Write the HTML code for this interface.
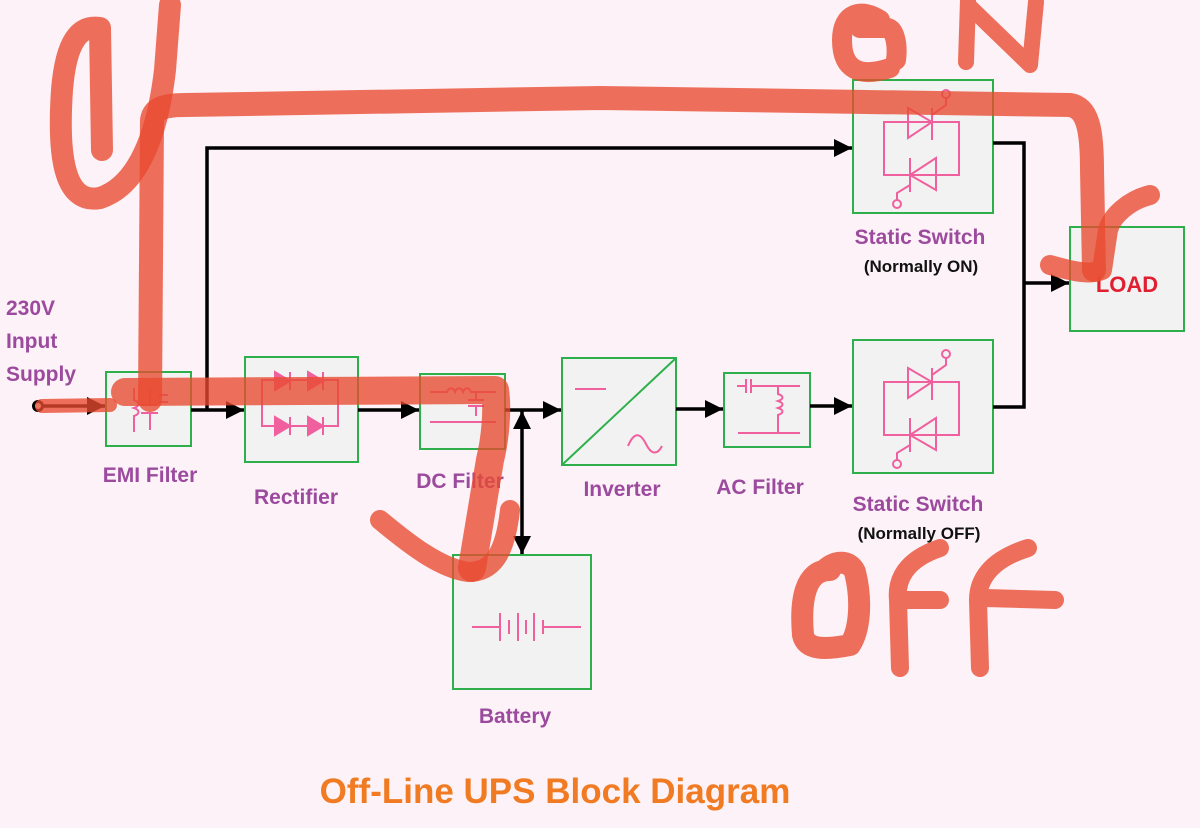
<!DOCTYPE html>
<html><head><meta charset="utf-8"><style>
html,body{margin:0;padding:0;background:#fdf2f7;}
svg{display:block}
.lbl{font-family:"Liberation Sans Narrow","Liberation Sans",sans-serif;font-weight:bold;fill:#9b4a9e;font-size:21px;text-anchor:middle}
.sub{font-family:"Liberation Sans Narrow","Liberation Sans",sans-serif;font-weight:bold;fill:#111;font-size:17px;text-anchor:middle}
.box{fill:#f2f2f2;stroke:#2db04b;stroke-width:2}
.sym{stroke:#f0609f;stroke-width:2;fill:none}
.w{stroke:#000;stroke-width:3.5;fill:none}
.red{stroke:#e84a30;stroke-opacity:.78;fill:none;stroke-linecap:round;stroke-linejoin:round}
</style></head><body>
<svg width="1200" height="828" viewBox="0 0 1200 828" xmlns="http://www.w3.org/2000/svg">
<defs>
<marker id="a" viewBox="0 0 10 10" refX="10" refY="5" markerWidth="20" markerHeight="18" markerUnits="userSpaceOnUse" orient="auto-start-reverse"><path d="M0,0 L10,5 L0,10Z" fill="#000"/></marker></defs>

<!-- boxes -->
<rect class="box" x="106" y="372" width="85" height="74"/>
<rect class="box" x="245" y="357" width="113" height="105"/>
<rect class="box" x="420" y="374" width="85" height="75"/>
<rect class="box" x="562" y="358" width="114" height="107"/>
<rect class="box" x="724" y="373" width="86" height="74"/>
<rect class="box" x="853" y="80" width="140" height="133"/>
<rect class="box" x="853" y="340" width="140" height="133"/>
<rect class="box" x="1070" y="227" width="114" height="104"/>
<rect class="box" x="453" y="555" width="138" height="134"/>

<!-- connectors -->
<circle cx="38" cy="406" r="4.5" fill="#fff" stroke="#000" stroke-width="3"/>
<line class="w" x1="43" y1="406" x2="105" y2="406" marker-end="url(#a)"/>
<line class="w" x1="191" y1="410" x2="244" y2="410" marker-end="url(#a)"/>
<polyline class="w" points="207,410 207,148 852,148" marker-end="url(#a)"/>
<line class="w" x1="358" y1="410" x2="419" y2="410" marker-end="url(#a)"/>
<line class="w" x1="505" y1="410" x2="561" y2="410" marker-end="url(#a)"/>
<line class="w" x1="522" y1="411" x2="522" y2="554" marker-start="url(#a)" marker-end="url(#a)"/>
<line class="w" x1="676" y1="409" x2="723" y2="409" marker-end="url(#a)"/>
<line class="w" x1="810" y1="406" x2="852" y2="406" marker-end="url(#a)"/>
<polyline class="w" points="993,143 1024,143 1024,407 993,407"/>
<line class="w" x1="1024" y1="283" x2="1069" y2="283" marker-end="url(#a)"/>

<!-- symbols -->
<g class="sym">
<path d="M134,388 V400 c6,2 6,6 0,8 c6,2 6,6 0,8 V432"/>
<path d="M141,405 H158 M141,413 H158 M150,390 V405 M150,413 V430 M158,395 H168 M158,402 H168"/>
<path d="M262,380 H338 V426 H262 Z"/>
<path d="M275,372 V390 L290,381 Z M290,372 V390 M308,372 V390 L323,381 Z M323,372 V390" fill="#f0609f"/>
<path d="M275,417 V435 L290,426 Z M290,417 V435 M308,417 V435 L323,426 Z M323,417 V435" fill="#f0609f"/>
<path d="M430,392 H447 c2,-5 6,-5 8,0 c2,-5 6,-5 8,0 c2,-5 6,-5 8,0 H496 M476,392 V400 M468,400 H484 M468,406 H484 M476,406 V416 M430,422 H496"/>
<path d="M563,464 L675,359" stroke="#2db04b"/>
<path d="M575,389 H606"/>
<path d="M628,446 c6,-14 12,-14 18,-2 c6,12 12,10 16,2"/>
<path d="M737,386 H746 M746,379 V393 M751,379 V393 M751,386 H800 M778,386 V394 c6,2 6,5 0,7 c6,2 6,5 0,7 c6,2 6,5 0,7 V433 M738,433 H800"/>
<path d="M472,627 H500 M500,613 V641 M509,620 V634 M518,613 V641 M526,620 V634 M534,613 V641 M543,620 V634 M543,627 H581"/>
</g>
<g class="sym" id="scr">
<path d="M884,122 H959 V175 H884 Z"/>
<path d="M908,108 V138 L932,122 Z M932,108 V140 M932,115 L946,105 V98"/>
<circle cx="946" cy="94" r="4"/>
<path d="M936,158 V190 L910,175 Z M910,158 V192 M910,185 L897,193 V200"/>
<circle cx="897" cy="204" r="4"/>
</g>
<use href="#scr" transform="translate(0,260)"/>

<!-- labels -->
<text x="6" y="315" class="lbl" style="text-anchor:start">230V</text>
<text x="6" y="348" class="lbl" style="text-anchor:start">Input</text>
<text x="6" y="381" class="lbl" style="text-anchor:start">Supply</text>
<text x="150" y="482" class="lbl">EMI Filter</text>
<text x="296" y="504" class="lbl">Rectifier</text>
<text x="460" y="488" class="lbl">DC Filter</text>
<text x="622" y="496" class="lbl">Inverter</text>
<text x="760" y="494" class="lbl">AC Filter</text>
<text x="920" y="244" class="lbl">Static Switch</text>
<text x="921" y="272" class="sub">(Normally ON)</text>
<text x="918" y="511" class="lbl">Static Switch</text>
<text x="919" y="539" class="sub">(Normally OFF)</text>
<text x="1127" y="292" class="lbl" style="fill:#e02030;font-size:22px">LOAD</text>
<text x="515" y="723" class="lbl">Battery</text>
<text x="555" y="803" class="lbl" style="fill:#f07b22;font-size:35px">Off-Line UPS Block Diagram</text>

<!-- red marker strokes -->
<g class="red">
<path stroke-width="22" d="M170,5 L165,70 C158,130 140,185 100,198 C62,205 58,150 62,90 C66,40 80,25 100,28 L102,150"/>
<path stroke-width="24" d="M150,400 L152,120 C154,108 165,105 185,105 L600,98 L1070,105 C1088,108 1092,130 1092,170 L1094,270"/>
<path stroke-width="20" d="M1050,265 C1075,272 1090,275 1102,270 L1108,230 C1112,215 1130,200 1150,195"/>
<path stroke-width="14" d="M42,406 L110,405"/>
<path stroke-width="28" d="M125,392 L495,390 C498,410 495,440 490,460 L472,568"/>
<path stroke-width="20" d="M380,520 C410,545 440,568 468,572 C492,572 505,555 510,510"/>
<path stroke-width="20" d="M880,20 C862,8 842,12 842,40 C842,70 860,78 890,68 M860,28 L888,28 C895,30 898,45 896,60"/>
<path stroke-width="16" d="M968,0 L966,62 M968,5 L1030,65 L1036,2"/>
<path stroke-width="22" d="M830,570 C805,570 800,600 803,635 C806,650 825,650 850,645 C860,630 862,600 855,572 C850,560 835,560 825,570"/>
<path stroke-width="18" d="M900,668 L898,600 C896,580 905,560 940,548 M900,600 L940,600"/>
<path stroke-width="18" d="M980,668 L978,600 C978,580 990,560 1028,548 M985,598 L1055,600"/>
</g>
</svg>
</body></html>
